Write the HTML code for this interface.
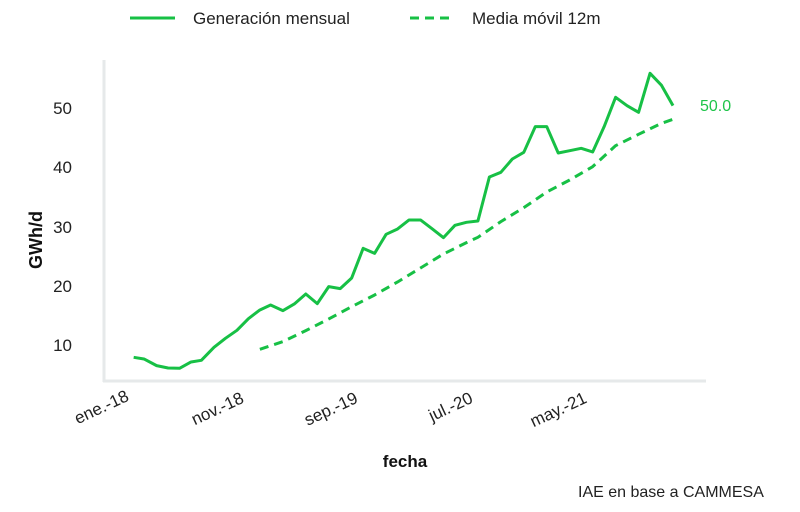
<!DOCTYPE html>
<html><head><meta charset="utf-8"><style>
body{margin:0;background:#fff;width:800px;height:507px;overflow:hidden}
svg{font-family:"Liberation Sans",sans-serif}
</style></head><body>
<svg width="800" height="507" viewBox="0 0 800 507">
<line x1="104" y1="60" x2="104" y2="382" stroke="#e6e9ea" stroke-width="3"/>
<line x1="103" y1="381" x2="706" y2="381" stroke="#e6e9ea" stroke-width="3"/>
<g font-size="17" fill="#222">
<text x="72" y="351" text-anchor="end">10</text>
<text x="72" y="292" text-anchor="end">20</text>
<text x="72" y="233" text-anchor="end">30</text>
<text x="72" y="173" text-anchor="end">40</text>
<text x="72" y="114" text-anchor="end">50</text>
<text transform="translate(130,400) rotate(-25)" text-anchor="end">ene.-18</text>
<text transform="translate(245,402) rotate(-25)" text-anchor="end">nov.-18</text>
<text transform="translate(359,402) rotate(-25)" text-anchor="end">sep.-19</text>
<text transform="translate(474,402) rotate(-25)" text-anchor="end">jul.-20</text>
<text transform="translate(588,402) rotate(-25)" text-anchor="end">may.-21</text>
<text x="578" y="497" font-size="16">IAE en base a CAMMESA</text>
<text x="193" y="24">Generación mensual</text>
<text x="472" y="24">Media móvil 12m</text>
</g>
<text transform="translate(42,240) rotate(-90)" text-anchor="middle" font-size="18" font-weight="bold" fill="#111">GWh/d</text>
<text x="405" y="467" text-anchor="middle" font-size="17" font-weight="bold" fill="#111">fecha</text>
<text x="700" y="111" font-size="16" fill="#1ec44a">50.0</text>
<line x1="130" y1="18" x2="175" y2="18" stroke="#17c045" stroke-width="3"/>
<line x1="410" y1="18" x2="455" y2="18" stroke="#17c045" stroke-width="3" stroke-dasharray="9,6"/>
<g transform="translate(100,60) scale(0.3825,0.3333)" fill="none" stroke="#17c045" stroke-width="3" stroke-linejoin="round">
<polyline vector-effect="non-scaling-stroke" points="88,892 115,897 148,917 178,924 208,925 238,906 265,901 298,862 328,835 358,811 388,776 418,750 446,735 478,752 508,732 538,702 568,731 598,680 628,686 658,654 688,565 718,580 748,523 778,507 808,480 838,480 868,506 898,533 928,496 958,487 988,483 1018,351 1048,337 1078,297 1108,277 1138,200 1168,200 1198,279 1228,272 1258,265 1288,276 1318,200 1348,112 1378,137 1408,157 1438,40 1468,76 1498,137"/>
<polyline vector-effect="non-scaling-stroke" stroke-dasharray="9,6" points="418,868 478,845 538,812 598,777 658,740 718,705 778,666 838,624 898,582 958,548 988,532 1048,485 1108,443 1168,396 1228,360 1288,320 1348,257 1408,223 1468,190 1498,178"/>
</g>
</svg>
</body></html>
